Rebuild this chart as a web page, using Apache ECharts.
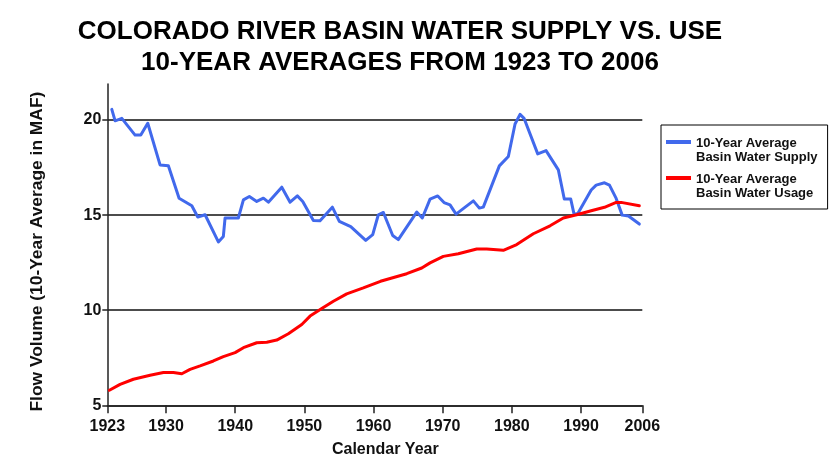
<!DOCTYPE html>
<html><head><meta charset="utf-8">
<script src="https://cdn.jsdelivr.net/npm/echarts@6/dist/echarts.min.js"></script>
<style>html,body{margin:0;padding:0;background:#fff}#c{width:832px;height:471px}</style>
</head><body><div id="c"></div>
<script>
// x-axis tick positions (chart-year units) and their printed labels
const tickPositions = [1921.5, 1930, 1940, 1950, 1960, 1970, 1980, 1990, 1998.86];
const tickLabels = ['1923','1930','1940','1950','1960','1970','1980','1990','2006'];
const yTicks = [5, 10, 15, 20];

const supplyYears = [1922.15,1922.63,1923.60,1925.52,1926.34,1927.35,1929.13,1930.33,1931.88,1933.72,1934.58,1935.64,1937.56,1938.28,1938.53,1940.45,1941.18,1942.04,1943.11,1944.07,1944.79,1946.73,1947.93,1948.98,1949.76,1951.30,1952.26,1954.04,1955.05,1956.70,1958.87,1959.88,1960.69,1961.42,1962.77,1963.58,1966.24,1967.05,1968.17,1969.28,1970.19,1971.06,1971.93,1974.43,1975.30,1975.87,1976.94,1978.19,1979.49,1980.46,1981.18,1981.76,1983.74,1984.94,1986.72,1987.58,1988.51,1988.99,1989.54,1991.47,1992.19,1993.39,1994.11,1995.08,1995.95,1996.86,1998.43];
const supplyValues = [20.56,19.96,20.09,19.21,19.21,19.83,17.64,17.60,15.89,15.49,14.90,15.02,13.59,13.88,14.85,14.85,15.80,15.98,15.72,15.89,15.68,16.47,15.68,16.01,15.72,14.72,14.70,15.42,14.67,14.40,13.67,13.97,15.02,15.14,13.93,13.71,15.16,14.85,15.84,16.01,15.66,15.54,15.05,15.75,15.37,15.42,16.42,17.59,18.08,19.79,20.30,20.09,18.22,18.39,17.38,15.85,15.85,15.05,15.08,16.32,16.58,16.70,16.58,15.88,15.00,14.95,14.53];

const usageYears = [1921.80,1923.35,1925.27,1927.69,1929.61,1931.06,1932.27,1933.47,1934.92,1936.84,1938.28,1939.98,1941.18,1943.11,1944.56,1946.00,1947.68,1949.62,1950.82,1952.51,1954.19,1956.12,1958.52,1961.00,1964.80,1966.97,1968.17,1970.09,1972.26,1974.92,1976.36,1978.76,1980.70,1983.10,1985.52,1987.44,1989.37,1991.47,1993.39,1995.08,1995.80,1998.43];
const usageValues = [5.79,6.10,6.37,6.58,6.72,6.72,6.66,6.89,7.07,7.33,7.56,7.77,8.03,8.29,8.32,8.43,8.76,9.25,9.69,10.09,10.47,10.86,11.17,11.52,11.92,12.22,12.49,12.83,12.97,13.22,13.22,13.15,13.45,14.02,14.44,14.85,15.02,15.23,15.41,15.67,15.67,15.49];

const seriesNames = ['10-Year Average\nBasin Water Supply', '10-Year Average\nBasin Water Usage'];

const FONT = '"Liberation Sans", Arial, sans-serif';
const pair = (xs, ys) => xs.map((x, i) => [x, ys[i]]);
const labelFor = v => {
  let best = 0;
  tickPositions.forEach((p, i) => { if (Math.abs(p - v) < Math.abs(tickPositions[best] - v)) best = i; });
  return tickLabels[best];
};
const legendIcon = 'path://M0,4H25V8H0Z M0,28L0.01,28L0,27.99Z M0,0L0.01,0L0,0.01Z';

const chart = echarts.init(document.getElementById('c'), null, {renderer: 'canvas'});
chart.setOption({
  animation: false,
  backgroundColor: '#fff',
  title: {
    text: 'COLORADO RIVER BASIN WATER SUPPLY VS. USE\n10-YEAR AVERAGES FROM 1923 TO 2006',
    left: 400, top: 16, padding: 0, textAlign: 'center',
    textStyle: {fontFamily: FONT, fontWeight: 'bold', fontSize: 26, lineHeight: 31, color: '#000', align: 'center'}
  },
  legend: {
    orient: 'vertical', left: 661, top: 125,
    padding: [11, 10, 9, 5],
    borderColor: '#000', borderWidth: 1, borderRadius: 0,
    itemWidth: 25, itemHeight: 28, itemGap: 8,
    icon: legendIcon,
    itemStyle: {borderWidth: 0},
    textStyle: {fontFamily: FONT, fontWeight: 'bold', fontSize: 13, lineHeight: 14, color: '#111'},
    data: seriesNames
  },
  grid: {left: 107.3, right: 189.7, top: 83.9, bottom: 65.7},
  xAxis: {
    type: 'value', min: tickPositions[0], max: tickPositions[tickPositions.length - 1],
    name: 'Calendar Year', nameLocation: 'middle', nameGap: 36,
    nameTextStyle: {fontFamily: FONT, fontWeight: 'bold', fontSize: 16, color: '#111', padding: [0, 0, 0, 21]},
    axisLine: {show: true, lineStyle: {color: '#222', width: 1.5}},
    axisTick: {show: true, length: 8, lineStyle: {color: '#222', width: 1.5}, customValues: tickPositions},
    axisLabel: {customValues: tickPositions, formatter: labelFor, margin: 13,
      fontFamily: FONT, fontWeight: 'bold', fontSize: 16, color: '#111'},
    splitLine: {show: false}
  },
  yAxis: {
    type: 'value', min: 5, max: 21.9, interval: 5,
    name: 'Flow Volume (10-Year Average in MAF)', nameLocation: 'middle', nameGap: 62,
    nameTextStyle: {fontFamily: FONT, fontWeight: 'bold', fontSize: 17.4, color: '#111', padding: [0, 14, 0, 0]},
    axisLine: {show: true, lineStyle: {color: '#222', width: 1.5}},
    axisTick: {show: true, length: 5, lineStyle: {color: '#222', width: 1.5}, customValues: yTicks},
    axisLabel: {customValues: yTicks, margin: 6,
      fontFamily: FONT, fontWeight: 'bold', fontSize: 16, color: '#111'},
    splitLine: {show: true, lineStyle: {color: '#111', width: 1.5}}
  },
  series: [
    {name: seriesNames[0], type: 'line', data: pair(supplyYears, supplyValues), showSymbol: false, symbol: 'none',
      color: '#4169ec', lineStyle: {color: '#4169ec', width: 3, join: 'round', cap: 'round'}, z: 3},
    {name: seriesNames[1], type: 'line', data: pair(usageYears, usageValues), showSymbol: false, symbol: 'none',
      color: '#ff0000', lineStyle: {color: '#ff0000', width: 3, join: 'round', cap: 'round'}, z: 4}
  ]
});
</script></body></html>
